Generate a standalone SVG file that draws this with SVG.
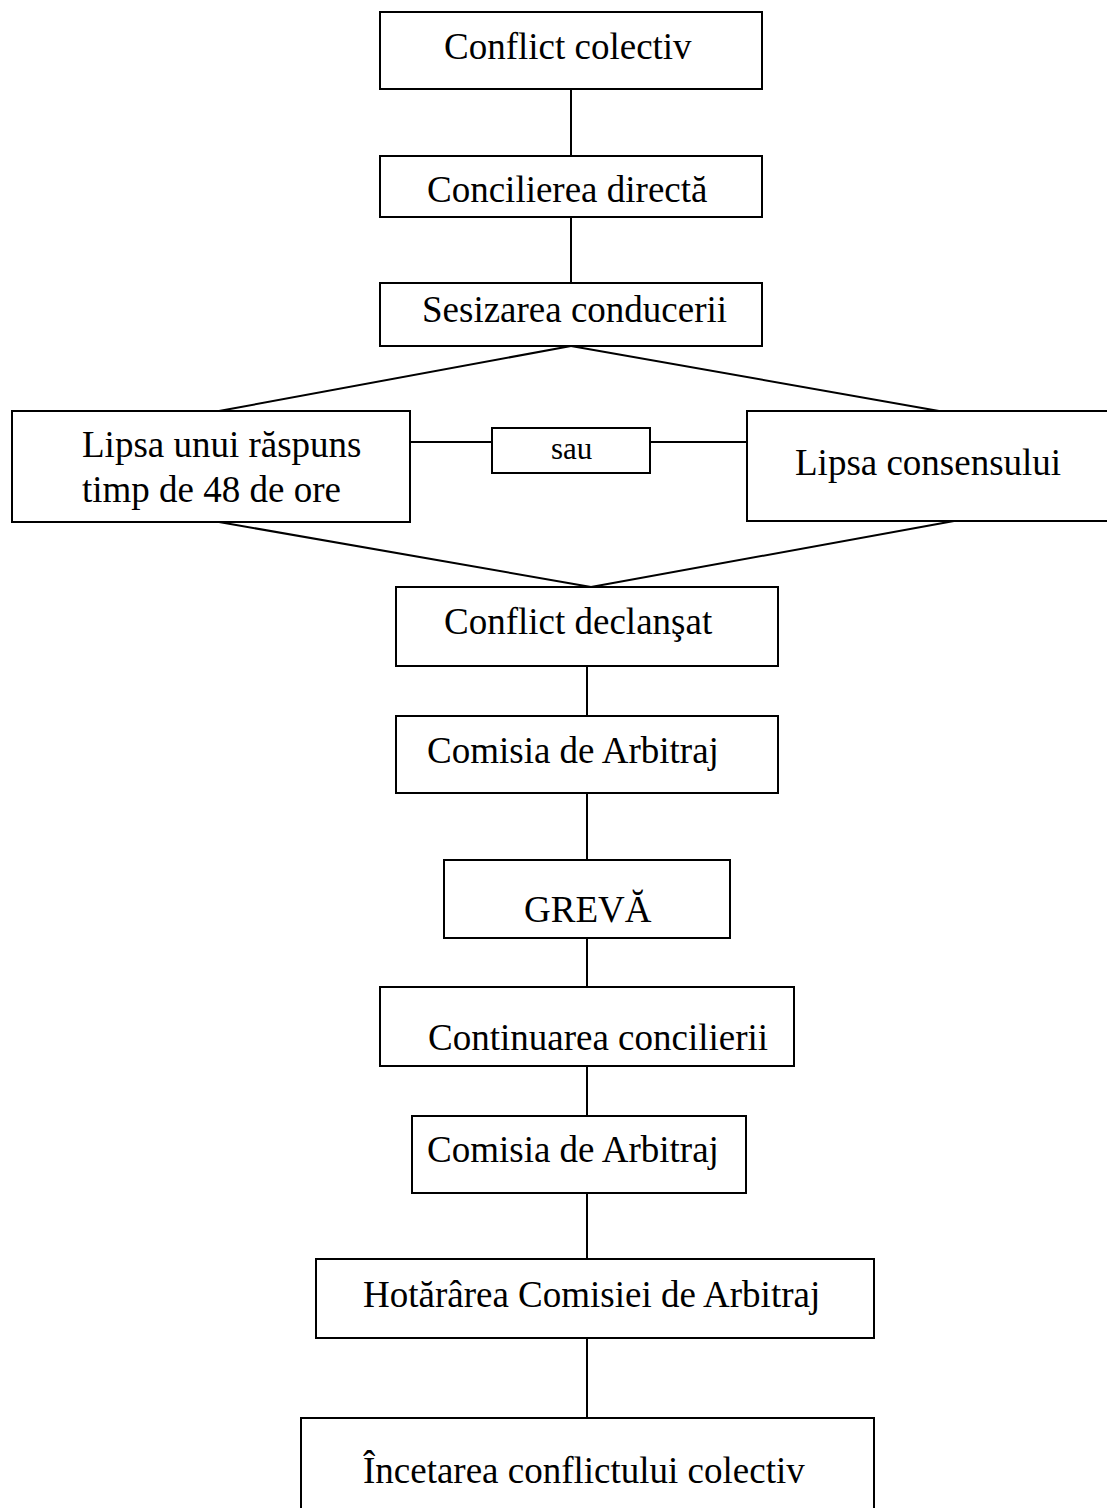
<svg xmlns="http://www.w3.org/2000/svg" width="1107" height="1508" viewBox="0 0 1107 1508">
<style>
  .box { fill: #ffffff; stroke: #000000; stroke-width: 2; }
  .conn { stroke: #000000; stroke-width: 2; fill: none; }
  .t { font-family: "Liberation Serif", "Times New Roman", serif; font-size: 37px; fill: #000000; }
  .s { font-family: "Liberation Serif", "Times New Roman", serif; font-size: 31px; fill: #000000; }
</style>
<rect width="1107" height="1508" fill="#ffffff"/>
<g id="connectors" class="conn">
  <line x1="571" y1="89" x2="571" y2="156"/>
  <line x1="571" y1="217" x2="571" y2="283"/>
  <line x1="571" y1="346" x2="219" y2="411"/>
  <line x1="571" y1="346" x2="939" y2="411"/>
  <line x1="410" y1="442" x2="492" y2="442"/>
  <line x1="650" y1="442" x2="747" y2="442"/>
  <line x1="219" y1="522" x2="591" y2="587"/>
  <line x1="954" y1="521" x2="591" y2="587"/>
  <line x1="587" y1="666" x2="587" y2="716"/>
  <line x1="587" y1="793" x2="587" y2="860"/>
  <line x1="587" y1="938" x2="587" y2="987"/>
  <line x1="587" y1="1066" x2="587" y2="1116"/>
  <line x1="587" y1="1193" x2="587" y2="1259"/>
  <line x1="587" y1="1338" x2="587" y2="1418"/>
</g>
<g id="n1"><rect class="box" x="380" y="12" width="382" height="77"/><text class="t" x="444" y="59">Conflict colectiv</text></g>
<g id="n2"><rect class="box" x="380" y="156" width="382" height="61"/><text class="t" x="427" y="202">Concilierea directă</text></g>
<g id="n3"><rect class="box" x="380" y="283" width="382" height="63"/><text class="t" x="422" y="322">Sesizarea conducerii</text></g>
<g id="n4"><rect class="box" x="12" y="411" width="398" height="111"/><text class="t" x="82" y="457">Lipsa unui răspuns</text><text class="t" x="82" y="502">timp de 48 de ore</text></g>
<g id="n5"><rect class="box" x="492" y="428" width="158" height="45"/><text class="s" x="551" y="459">sau</text></g>
<g id="n6"><rect class="box" x="747" y="411" width="373" height="110"/><text class="t" x="795" y="475">Lipsa consensului</text></g>
<g id="n7"><rect class="box" x="396" y="587" width="382" height="79"/><text class="t" x="444" y="634">Conflict declanşat</text></g>
<g id="n8"><rect class="box" x="396" y="716" width="382" height="77"/><text class="t" x="427" y="763">Comisia de Arbitraj</text></g>
<g id="n9"><rect class="box" x="444" y="860" width="286" height="78"/><text class="t" x="524" y="922">GREVĂ</text></g>
<g id="n10"><rect class="box" x="380" y="987" width="414" height="79"/><text class="t" x="428" y="1050">Continuarea concilierii</text></g>
<g id="n11"><rect class="box" x="412" y="1116" width="334" height="77"/><text class="t" x="427" y="1162">Comisia de Arbitraj</text></g>
<g id="n12"><rect class="box" x="316" y="1259" width="558" height="79"/><text class="t" x="363" y="1307">Hotărârea Comisiei de Arbitraj</text></g>
<g id="n13"><rect class="box" x="301" y="1418" width="573" height="112"/><text class="t" x="363" y="1483">Încetarea conflictului colectiv</text></g>
</svg>
